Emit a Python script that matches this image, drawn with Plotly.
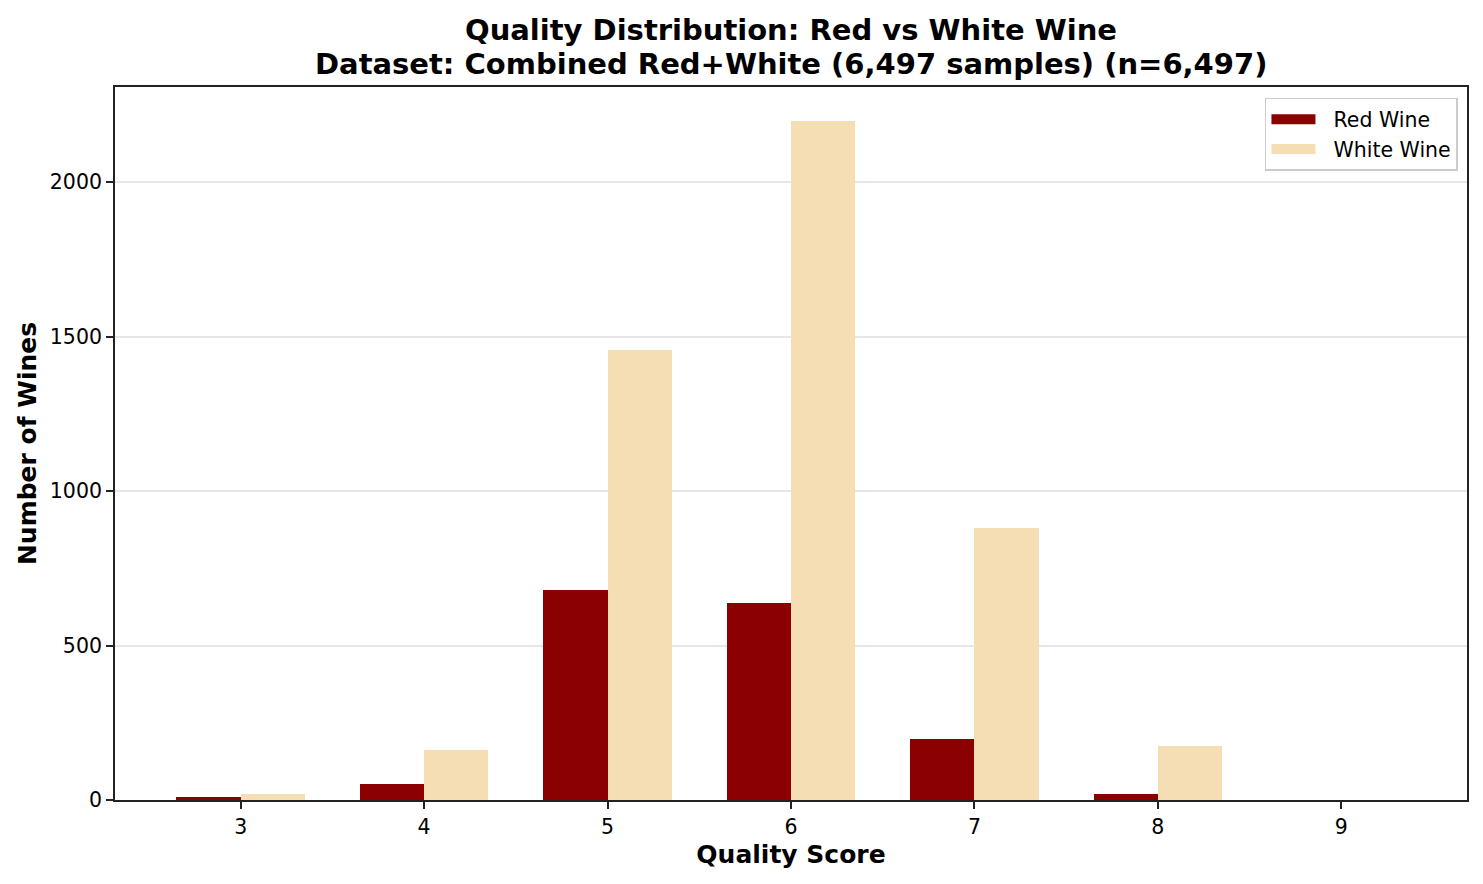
import plotly.graph_objects as go

quality = [3, 4, 5, 6, 7, 8, 9]
red_counts = [10, 53, 681, 638, 199, 18, 0]
white_counts = [20, 163, 1457, 2198, 880, 175, 0]
y_ticks = [0, 500, 1000, 1500, 2000]

RED = "#8b0000"
WHITE = "#f5deb3"
width = 0.35
font = "DejaVu Sans"

fig = go.Figure()
fig.add_trace(go.Bar(
    x=[q - width / 2 for q in quality], y=red_counts, width=width,
    name="Red Wine", marker=dict(color=RED, line=dict(width=0)), showlegend=False,
))
fig.add_trace(go.Bar(
    x=[q + width / 2 for q in quality], y=white_counts, width=width,
    name="White Wine", marker=dict(color=WHITE, line=dict(width=0)), showlegend=False,
))
# legend swatches
for name, col in [("Red Wine", RED), ("White Wine", WHITE)]:
    fig.add_trace(go.Scatter(
        x=[None], y=[None], mode="lines", name="\u00a0\u00a0" + name,
        line=dict(color=col, width=13),
    ))

W, H = 1475, 876
fig.update_layout(
    width=W, height=H,
    margin=dict(l=107, r=16, t=79, b=84),
    plot_bgcolor="white", paper_bgcolor="white",
    font=dict(family=font, size=21, color="black"),
    barmode="overlay",
    bargap=0,
    xaxis=dict(
        range=[2.315, 9.685], tickmode="array", tickvals=quality,
        ticktext=[str(q) for q in quality],
        showgrid=False, zeroline=False,
        showline=True, linecolor="#222", linewidth=1.8, mirror=True,
        ticks="outside", ticklen=7, tickwidth=1.6, tickcolor="#222",
        tickfont=dict(size=20.5),
        title=dict(text="<b>Quality Score</b>", font=dict(size=25), standoff=8),
    ),
    yaxis=dict(
        range=[0, 2308], tickmode="array", tickvals=y_ticks,
        showgrid=True, gridcolor="#e6e6e6", gridwidth=1.5, zeroline=False,
        showline=True, linecolor="#222", linewidth=1.8, mirror=True,
        ticks="outside", ticklen=7, tickwidth=1.6, tickcolor="#222",
        tickfont=dict(size=20.5),
        title=dict(text="<b>Number of Wines</b>", font=dict(size=25), standoff=6),
    ),
    legend=dict(
        x=0.9933, y=0.9846, xanchor="right", yanchor="top",
        bgcolor="rgba(255,255,255,0.8)", bordercolor="#cccccc", borderwidth=1.5,
        font=dict(size=20.5), itemwidth=44,
    ),
    annotations=[
        dict(text="<b>Quality Distribution: Red vs White Wine</b>",
             xref="paper", yref="paper", x=(783 - 107) / 1352, y=1 + (79 - 22) / 713,
             xanchor="center", yanchor="middle", showarrow=False,
             font=dict(family=font, size=29, color="black")),
        dict(text="<b>Dataset: Combined Red+White (6,497 samples) (n=6,497)</b>",
             xref="paper", yref="paper", x=(783 - 107) / 1352, y=1 + (79 - 56) / 713,
             xanchor="center", yanchor="middle", showarrow=False,
             font=dict(family=font, size=29, color="black")),
    ],
)

fig.write_html("out.html")
